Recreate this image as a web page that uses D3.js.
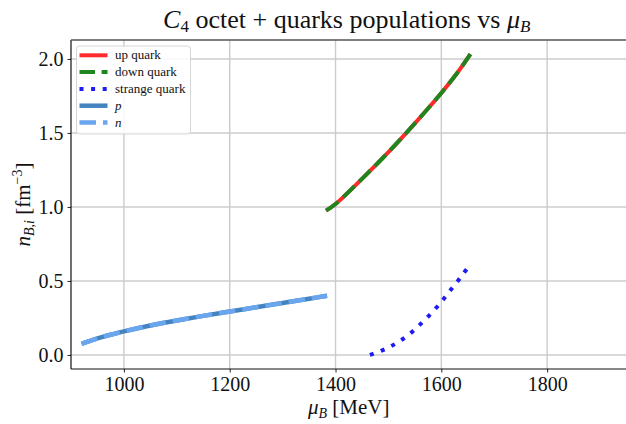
<!DOCTYPE html>
<html>
<head>
<meta charset="utf-8">
<script src="https://cdn.jsdelivr.net/npm/d3@7"></script>
<style>
  html, body { margin: 0; padding: 0; background: #fff; }
  svg { display: block; }
  text { font-family: "Liberation Serif", "DejaVu Serif", serif; fill: #111; }
</style>
</head>
<body>
<script>
// Baryon chemical potential grids (MeV) and densities (fm^-3)
const muHadron = [920, 940, 960, 980, 1000, 1050, 1100, 1150, 1200, 1250, 1300, 1350, 1384];
const nProton  = [0.075, 0.100, 0.122, 0.141, 0.159, 0.199, 0.233, 0.264, 0.293, 0.322, 0.351, 0.380, 0.400];
const nNeutron = [0.075, 0.100, 0.122, 0.141, 0.159, 0.199, 0.233, 0.264, 0.293, 0.322, 0.351, 0.380, 0.400];

const muQuark = [1382, 1400, 1450, 1500, 1550, 1600, 1630, 1655];
const nUp     = [0.975, 1.02, 1.19, 1.37, 1.565, 1.77, 1.905, 2.032];
const nDown   = [0.975, 1.02, 1.19, 1.37, 1.565, 1.77, 1.905, 2.032];

const muStrange = [1465, 1486, 1505, 1524, 1542, 1557, 1573, 1588, 1602, 1615, 1629, 1642, 1654];
const nStrange  = [0.0, 0.027, 0.059, 0.100, 0.147, 0.196, 0.252, 0.309, 0.367, 0.428, 0.489, 0.552, 0.608];

const xTicks = [1000, 1200, 1400, 1600, 1800];
const yTicks = [0.0, 0.5, 1.0, 1.5, 2.0];

const W = 626, H = 424;
const svg = d3.select("body").append("svg").attr("width", W).attr("height", H);

const x = d3.scaleLinear().domain([900, 1950]).range([71, 626.5]);
const y = d3.scaleLinear().domain([-0.095, 2.128]).range([369, 40]);

const [x0, x1] = x.range();
const [y0, y1] = y.range();

// grid
const grid = svg.append("g");
grid.selectAll(".gx").data(xTicks).enter().append("line")
  .attr("x1", d => x(d)).attr("x2", d => x(d)).attr("y1", y1).attr("y2", y0)
  .attr("stroke", "#cccccc").attr("stroke-width", 1.4);
grid.selectAll(".gy").data(yTicks).enter().append("line")
  .attr("x1", x0).attr("x2", x1).attr("y1", d => y(d)).attr("y2", d => y(d))
  .attr("stroke", "#cccccc").attr("stroke-width", 1.4);

// series
svg.append("clipPath").attr("id", "plotclip").append("rect")
  .attr("x", x0).attr("y", y1).attr("width", x1 - x0).attr("height", y0 - y1);
const plot = svg.append("g").attr("clip-path", "url(#plotclip)");

function series(xs, ys) { return xs.map((v, i) => [v, ys[i]]); }
const line = d3.line().x(d => x(d[0])).y(d => y(d[1])).curve(d3.curveCatmullRom.alpha(0.5));

const styles = {
  up:      { color: "#ff2b2b", width: 4, dash: null },
  down:    { color: "#1f861f", width: 4, dash: "15.5,6.6" },
  strange: { color: "#1c1cf5", width: 4, dash: "4,7.6" },
  p:       { color: "#4384c0", width: 4.5, dash: null },
  n:       { color: "#6aa6ee", width: 4.5, dash: "16.5,7" }
};

function draw(data, st) {
  const p = plot.append("path").datum(data).attr("d", line)
    .attr("fill", "none").attr("stroke", st.color).attr("stroke-width", st.width)
    .attr("stroke-linecap", "butt");
  if (st.dash) p.attr("stroke-dasharray", st.dash);
}
draw(series(muQuark, nUp), styles.up);
draw(series(muQuark, nDown), styles.down);
draw(series(muStrange, nStrange), styles.strange);
draw(series(muHadron, nProton), styles.p);
draw(series(muHadron, nNeutron), styles.n);

// axes
const xAxis = d3.axisBottom(x).tickValues(xTicks).tickFormat(d3.format("d")).tickSize(3.5).tickPadding(4);
const yAxis = d3.axisLeft(y).tickValues(yTicks).tickFormat(d3.format(".1f")).tickSize(3.5).tickPadding(4);

const gx = svg.append("g").attr("transform", `translate(0,${y0})`).call(xAxis);
const gy = svg.append("g").attr("transform", `translate(${x0},0)`).call(yAxis);
[gx, gy].forEach(g => {
  g.select(".domain").remove();
  g.selectAll(".tick line").attr("stroke", "#222").attr("stroke-width", 1);
  g.selectAll(".tick text").attr("font-family", "Liberation Serif, serif").attr("font-size", 20).attr("fill", "#111");
});

// spines
svg.append("line").attr("x1", x0).attr("x2", x1).attr("y1", y0).attr("y2", y0).attr("stroke", "#111").attr("stroke-width", 1.2);
svg.append("line").attr("x1", x0).attr("x2", x0).attr("y1", y1).attr("y2", y0).attr("stroke", "#111").attr("stroke-width", 1.2);
svg.append("line").attr("x1", x0).attr("x2", x1).attr("y1", y1).attr("y2", y1).attr("stroke", "#555").attr("stroke-width", 1.4);

// title
const title = svg.append("text").attr("x", (x0 + x1) / 2 - 2).attr("y", 28)
  .attr("text-anchor", "middle").attr("font-size", 26);
title.append("tspan").attr("font-style", "italic").text("C");
title.append("tspan").attr("font-size", 17).attr("dy", 4).text("4");
title.append("tspan").attr("dy", -4).text(" octet + quarks populations vs ");
title.append("tspan").attr("font-style", "italic").text("μ");
title.append("tspan").attr("font-size", 17).attr("font-style", "italic").attr("dy", 4).text("B");

// x label
const xl = svg.append("text").attr("x", (x0 + x1) / 2).attr("y", 414)
  .attr("text-anchor", "middle").attr("font-size", 21);
xl.append("tspan").attr("font-style", "italic").text("μ");
xl.append("tspan").attr("font-size", 14).attr("font-style", "italic").attr("dy", 4).text("B");
xl.append("tspan").attr("dy", -4).text(" [MeV]");

// y label
const yl = svg.append("text").attr("transform", `translate(30,${(y0 + y1) / 2}) rotate(-90)`)
  .attr("text-anchor", "middle").attr("font-size", 21);
yl.append("tspan").attr("font-style", "italic").text("n");
yl.append("tspan").attr("font-size", 14).attr("font-style", "italic").attr("dy", 4).text("B,i");
yl.append("tspan").attr("dy", -4).text(" [fm");
yl.append("tspan").attr("font-size", 14).attr("dy", -8).text("−3");
yl.append("tspan").attr("dy", 8).text("]");

// legend
const legendItems = [
  { label: "up quark", st: styles.up, italic: false },
  { label: "down quark", st: styles.down, italic: false },
  { label: "strange quark", st: styles.strange, italic: false },
  { label: "p", st: styles.p, italic: true },
  { label: "n", st: styles.n, italic: true }
];
const lg = svg.append("g");
lg.append("rect").attr("x", 76.5).attr("y", 46).attr("width", 114).attr("height", 88)
  .attr("rx", 3).attr("fill", "#fff").attr("fill-opacity", 0.85)
  .attr("stroke", "#d6d6d6").attr("stroke-width", 1);
legendItems.forEach((it, i) => {
  const yy = 55.3 + i * 16.8;
  const l = lg.append("line").attr("x1", 79.5).attr("x2", 107.5).attr("y1", yy).attr("y2", yy)
    .attr("stroke", it.st.color).attr("stroke-width", it.st.width);
  if (it.st.dash) l.attr("stroke-dasharray", it.st.dash);
  lg.append("text").attr("x", 115).attr("y", yy + 4).attr("font-size", 13)
    .attr("font-style", it.italic ? "italic" : "normal").text(it.label);
});
</script>
</body>
</html>
